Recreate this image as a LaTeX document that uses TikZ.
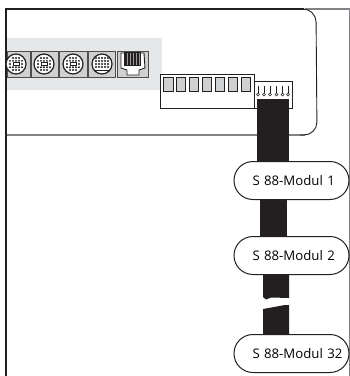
\documentclass[tikz,border=0pt]{standalone}
\usepackage{fontspec}
\setmainfont{Open Sans}
\usetikzlibrary{positioning}
\definecolor{panelgray}{HTML}{E6E7E8}
\definecolor{cellgray}{HTML}{CFD0D2}
\definecolor{edgedark}{HTML}{231F20}
\definecolor{edgegray}{HTML}{808285}
\tikzset{
  modulbox/.style={draw=edgedark, fill=white, line width=1pt, rounded corners=19pt, minimum width=115pt, minimum height=38pt, inner sep=0pt, text width=106pt, align=left, execute at begin node={\hspace*{14pt}}, font=\fontsize{13.2}{15}\selectfont},
  socketbox/.style={draw=edgedark!80, fill=cellgray, line width=1pt},
  cellbox/.style={draw=edgedark, fill=cellgray, line width=1pt},
  ribbon/.style={edgedark, line width=#1}
}

\begin{document}
\begin{tikzpicture}[x=1pt, y=-1pt]
\useasboundingbox (0,0) rectangle (350,376);

% Board
\fill[panelgray] (6,38) rectangle (162,90);
\draw[edgegray, line width=1.2pt] (305,9) -- (349.4,9) -- (349.4,376);
\draw[edgegray, line width=1.3pt] (6,135) -- (305,135);
\draw[edgedark, line width=0.9pt, rounded corners=13pt] (300,135) -- (317,135) -- (316,9) -- (300,9);
\draw[edgedark, line width=1.4pt] (304,9) -- (6,9) -- (6,376);

% Sockets
\foreach \xa/\xb/\xc in {7/30/16, 31/58/44, 59/87/73}{
  \draw[socketbox] (\xa,51) rectangle (\xb,77);
  \draw[edgedark, fill=white, line width=1.2pt] (\xc,64) circle (10);
  \foreach \dx in {-3,0,3}{
    \fill[edgedark] (\xc+\dx,58) circle (1.05);
    \fill[edgedark] (\xc+\dx,70) circle (1.05);
  }
  \foreach \dx in {-6,-3,0,3,6}{
    \fill[edgedark] (\xc+\dx,60.8) circle (1.05);
    \fill[edgedark] (\xc+\dx,67.2) circle (1.05);
  }
  \foreach \dx in {-6,6}{
    \fill[edgedark] (\xc+\dx,64) circle (1.05);
  }
  \draw[edgedark, line width=0.7pt] (\xc-3,62.8) rectangle (\xc+3,65.2);
}
\draw[socketbox] (88,51) rectangle (115,77);
\draw[edgedark, fill=white, line width=1.2pt] (102,64) circle (10);
\foreach \yy in {58,61,64,67}{
  \foreach \dx in {-6,-3,0,3,6}{
    \fill[edgedark] (102+\dx,\yy) circle (1.05);
  }
}
\draw[edgedark, line width=0.8pt] (94,70) -- (110,70);

\draw[socketbox] (117,51) rectangle (148,77);
\draw[edgedark, fill=white, line width=0.9pt] (121,53) -- (144,53) -- (145,68) -- (139,70) -- (139,75) -- (127,75) -- (127,70) -- (121,68) -- cycle;
\fill[edgedark] (124,52) rectangle (141,66);
\foreach \x in {127,130,...,139}{
  \draw[edgedark!45, line width=0.25pt] (\x,53) -- (\x,65);
}

% Switch
\node[draw=edgedark, fill=white, line width=0.9pt, minimum width=94pt, minimum height=34pt, inner sep=0pt] (SW) at (207,91) {};
\foreach \xa/\xb in {163.5/173, 176.5/185, 189.5/198.5, 202/211, 215.5/224, 228/237, 241/250}{
  \draw[cellbox] (\xa,77.5) rectangle (\xb,91);
}

% Pins
\node[draw=edgedark, fill=white, line width=0.9pt, minimum width=38pt, minimum height=27pt, inner sep=0pt, anchor=south west] (PIN) at (SW.south east) {};
\foreach \x in {258,264,270,276.5,282.5,288}{
  \draw[edgedark, line width=0.7pt] (\x,86) -- (\x,92.5);
  \draw[edgedark, fill=white, line width=0.6pt] (\x,94.5) circle (1.5);
}

% Modules
\node[modulbox] (M1) at (291.5,180.5) {S 88-Modul 1};
\node[modulbox] (M2) [below = 36pt of M1] {S 88-Modul 2};
\node[modulbox] (M3) [below = 59pt of M2] {S 88-Modul 32};

% Cables
\coordinate (TOP) at (273,99);
\coordinate (MID) at (273.5,0);
\coordinate (CUTL) at (263,0);
\coordinate (CUTR) at (289,0);
\draw[ribbon=32pt] (TOP) -- (TOP |- M1.north);
\draw[ribbon=27pt] (MID |- M1.south) -- (MID |- M2.north);
\fill[edgedark] (CUTL |- M2.south) -- (CUTR |- M2.south) -- (289,298) -- (271,297.5) -- (266,299.5) -- (263,297) -- cycle;
\fill[edgedark] (CUTL |- M3.north) -- (CUTR |- M3.north) -- (289,305) -- (285,305) -- (263,309) -- cycle;
\end{tikzpicture}
\end{document}
